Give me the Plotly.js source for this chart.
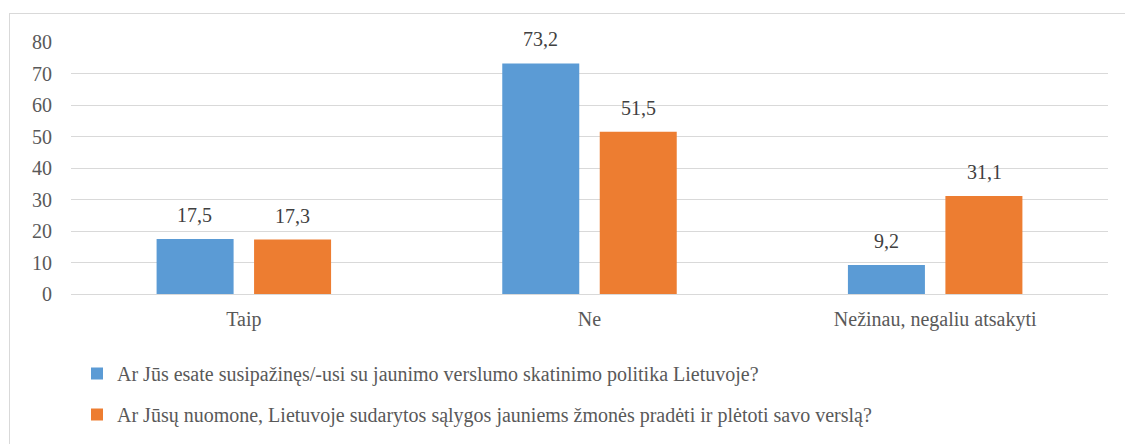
<!DOCTYPE html>
<html>
<head>
<meta charset="utf-8">
<script src="https://cdn.plot.ly/plotly-3.0.1.min.js"></script>
<style>
html,body{margin:0;padding:0;background:#fff;overflow:hidden;}
#chart{width:1125px;height:444px;}
#frame{position:absolute;left:9px;top:13px;width:1130px;height:460px;border:1px solid #d9d9d9;pointer-events:none;z-index:5;}
#preload{position:absolute;left:0;top:0;font-family:"Liberation Serif";font-size:20px;color:rgba(0,0,0,0);z-index:0;}
</style>
</head>
<body>
<div id="preload">Taip Ne Nežinau 0123456789 Jūsų ąęėįšųūž</div>
<div id="chart"></div>
<script>
const categories = ["Taip", "Ne", "Nežinau, negaliu atsakyti"];
const seriesNames = [
  "Ar Jūs esate susipažinęs/-usi su jaunimo verslumo skatinimo politika Lietuvoje?",
  "Ar Jūsų nuomone, Lietuvoje sudarytos sąlygos jauniems žmonės pradėti ir plėtoti savo verslą?"
];
const series1 = [17.5, 73.2, 9.2];
const series2 = [17.3, 51.5, 31.1];
const yTicks = [0, 10, 20, 30, 40, 50, 60, 70, 80];

(function () {
  const colors = ["#5B9BD5", "#ED7D31"];
  const FAM = "Liberation Serif";
  const TXT = "#595959";
  const PL = 71, PR = 1108, PT = 42, PB = 294, PW = 1125, PH = 444;
  const px2x = p => (p - PL) / (PR - PL);
  const px2y = p => (PB - p) / (PB - PT);
  const allSeries = [series1, series2];
  const traces = allSeries.map((vals, i) => ({
    type: "bar", name: seriesNames[i], x: categories, y: vals,
    marker: {color: colors[i]}, legendgroup: "g" + i, hoverinfo: "skip"
  }));
  const annotations = [];
  allSeries.forEach((vals, i) => {
    vals.forEach((v, j) => {
      annotations.push({
        x: categories[j], y: v, xref: "x", yref: "y",
        text: v.toFixed(1).replace(".", ","), showarrow: false,
        xshift: (i === 0 ? -49 : 49), yshift: 24,
        font: {family: FAM, size: 20, color: "#404040"}
      });
    });
  });
  const layout = {
    width: PW, height: PH,
    margin: {l: PL, r: PW - PR, t: PT, b: PH - PB, autoexpand: false},
    font: {family: FAM, size: 20, color: TXT},
    bargap: 0.436, bargroupgap: 0.21, barmode: "group",
    xaxis: {showgrid: false, ticks: "", tickfont: {family: FAM, size: 20, color: TXT}, ticklabelstandoff: 11, automargin: false},
    yaxis: {range: [0, 80], tickvals: yTicks, gridcolor: "#d9d9d9", zerolinecolor: "#d9d9d9", ticks: "",
      tickfont: {family: FAM, size: 20, color: TXT}, ticklabelstandoff: 18, automargin: false},
    legend: {x: px2x(77), xanchor: "left", y: px2y(354), yanchor: "top", traceorder: "grouped", tracegroupgap: 12,
      font: {family: FAM, size: 20, color: TXT}},
    annotations: annotations
  };
  const draw = () => Plotly.newPlot("chart", traces, layout, {staticPlot: true}).then(() => {
    const f = document.createElement("div");
    f.id = "frame";
    document.body.appendChild(f);
  });
  if (document.fonts && document.fonts.load) {
    document.fonts.load('20px "Liberation Serif"').then(draw, draw);
  } else {
    draw();
  }
})();
</script>
</body>
</html>
